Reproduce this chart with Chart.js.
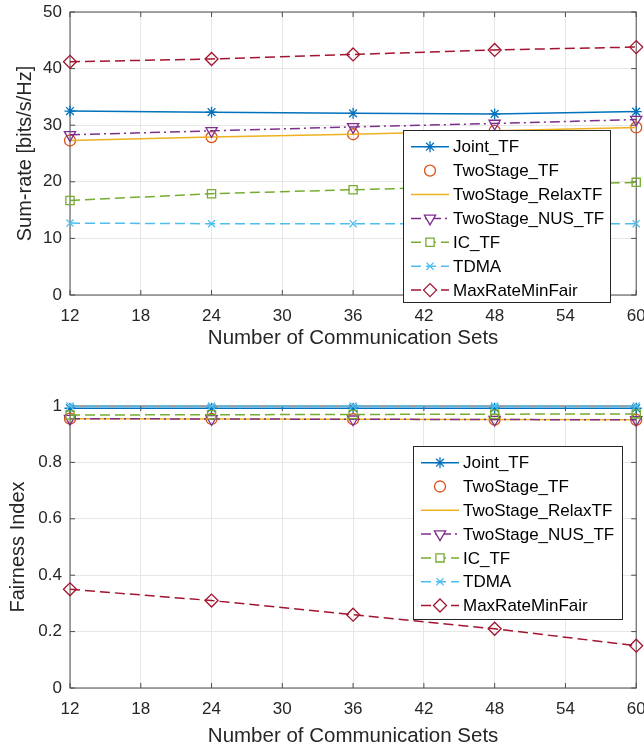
<!DOCTYPE html>
<html>
<head>
<meta charset="utf-8">
<script src="https://cdn.jsdelivr.net/npm/chart.js@4.4.0/dist/chart.umd.min.js"></script>
<style>
  body { margin: 0; background: #fff; }
  canvas { display: block; }
</style>
</head>
<body>
<canvas id="rateChart" width="644" height="375"></canvas>
<canvas id="fairChart" width="644" height="375"></canvas>
<script>
// x axis: number of communication sets
const sets = [12, 24, 36, 48, 60];
const names = ['Joint_TF', 'TwoStage_TF', 'TwoStage_RelaxTF', 'TwoStage_NUS_TF', 'IC_TF', 'TDMA', 'MaxRateMinFair'];

// sum-rate [bits/s/Hz]
const jointRate    = [32.5, 32.3, 32.1, 32.0, 32.4];
const twoStageRate = [27.3, 27.9, 28.4, 29.0, 29.6];
const relaxRate    = [27.3, 27.9, 28.4, 29.0, 29.6];
const nusRate      = [28.3, 29.0, 29.7, 30.3, 31.0];
const icRate       = [16.7, 17.9, 18.6, 19.2, 19.9];
const tdmaRate     = [12.7, 12.6, 12.6, 12.6, 12.6];
const maxMinRate   = [41.2, 41.7, 42.5, 43.3, 43.8];

// fairness index
const jointFair    = [0.992, 0.992, 0.992, 0.992, 0.992];
const twoStageFair = [0.955, 0.954, 0.953, 0.952, 0.951];
const relaxFair    = [0.955, 0.954, 0.953, 0.952, 0.951];
const nusFair      = [0.955, 0.954, 0.953, 0.952, 0.951];
const icFair       = [0.968, 0.969, 0.970, 0.971, 0.972];
const tdmaFair     = [1.0, 1.0, 1.0, 1.0, 1.0];
const maxMinFair   = [0.35, 0.31, 0.26, 0.21, 0.15];

const FONT = "'Liberation Sans', Arial, Helvetica, sans-serif";
const TXT = '#262626';

// MATLAB-like line styles, one per series
const styles = [
  { color: '#0072BD', dash: [],            marker: 'star',     r: 5.5, line: true },
  { color: '#D95319', dash: [],            marker: 'circle',   r: 5.5, line: false },
  { color: '#EDB120', dash: [],            marker: false,      r: 0,   line: true },
  { color: '#7E2F8E', dash: [10, 4, 2, 4], marker: 'triangle', r: 6.5, line: true, rot: 180 },
  { color: '#77AC30', dash: [10, 5],       marker: 'rect',     r: 5.8, line: true },
  { color: '#4DBEEE', dash: [10, 5],       marker: 'crossRot', r: 5,   line: true },
  { color: '#A2142F', dash: [10, 5],       marker: 'rectRot',  r: 6.5, line: true }
];

function makeDatasets(series) {
  return series.map((vals, i) => {
    const s = styles[i];
    return {
      label: names[i],
      data: sets.map((x, k) => ({ x: x, y: vals[k] })),
      borderColor: s.color,
      backgroundColor: 'rgba(0,0,0,0)',
      borderWidth: 1.5,
      borderDash: s.dash,
      showLine: s.line,
      pointStyle: s.marker,
      pointRadius: s.r,
      pointRotation: s.rot || 0,
      pointBorderWidth: 1.3,
      pointBorderColor: s.color,
      pointBackgroundColor: 'rgba(0,0,0,0)',
      tension: 0,
      clip: false,
      order: -i   // later series drawn on top, like MATLAB
    };
  });
}

// box around the axes, inward ticks, and a MATLAB style legend
const framePlugin = {
  id: 'frameLegend',
  beforeDatasetsDraw(chart) {
    const { ctx, chartArea: a, scales } = chart;
    ctx.save();
    ctx.strokeStyle = '#4d4d4d';
    ctx.lineWidth = 1;
    ctx.strokeRect(a.left, a.top, a.right - a.left, a.bottom - a.top);
    ctx.beginPath();
    scales.x.ticks.forEach(t => {
      const px = scales.x.getPixelForValue(t.value);
      ctx.moveTo(px, a.bottom); ctx.lineTo(px, a.bottom - 5);
      ctx.moveTo(px, a.top); ctx.lineTo(px, a.top + 5);
    });
    scales.y.ticks.forEach(t => {
      const py = scales.y.getPixelForValue(t.value);
      ctx.moveTo(a.left, py); ctx.lineTo(a.left + 5, py);
      ctx.moveTo(a.right, py); ctx.lineTo(a.right - 5, py);
    });
    ctx.stroke();
    ctx.restore();
  },
  afterDraw(chart, args, opts) {
    const ctx = chart.ctx;
    const { x, y, w, h, first, rowH } = opts;
    ctx.save();
    ctx.fillStyle = '#fff';
    ctx.fillRect(x, y, w, h);
    ctx.strokeStyle = '#262626';
    ctx.lineWidth = 1;
    ctx.strokeRect(x + 0.5, y + 0.5, w, h);
    chart.data.datasets.forEach((ds, i) => {
      const cy = y + first + i * rowH;
      if (ds.showLine !== false) {
        ctx.setLineDash(ds.borderDash);
        ctx.strokeStyle = ds.borderColor;
        ctx.lineWidth = ds.borderWidth;
        ctx.beginPath();
        ctx.moveTo(x + 8, cy); ctx.lineTo(x + 46, cy);
        ctx.stroke();
      }
      ctx.setLineDash([]);
      if (ds.pointStyle) {
        ctx.strokeStyle = ds.pointBorderColor;
        ctx.fillStyle = '#fff';
        ctx.lineWidth = ds.pointBorderWidth;
        Chart.helpers.drawPoint(ctx, {
          pointStyle: ds.pointStyle,
          rotation: ds.pointRotation,
          radius: ds.pointRadius,
          borderWidth: ds.pointBorderWidth
        }, x + 27, cy);
      }
      ctx.fillStyle = '#000';
      ctx.font = '17px ' + FONT;
      ctx.textBaseline = 'middle';
      ctx.textAlign = 'left';
      ctx.fillText(ds.label, x + 50, cy + 1);
    });
    ctx.restore();
  }
};

function makeChart(id, series, cfg) {
  return new Chart(document.getElementById(id), {
    type: 'scatter',
    data: { datasets: makeDatasets(series) },
    plugins: [framePlugin],
    options: {
      responsive: false,
      animation: false,
      events: [],
      layout: { padding: cfg.padding },
      plugins: {
        legend: { display: false },
        tooltip: { enabled: false },
        frameLegend: cfg.legend
      },
      scales: {
        x: {
          type: 'linear',
          min: 12, max: 60,
          afterFit: s => { s.height = cfg.xHeight; s.paddingLeft = 0; s.paddingRight = 0; },
          grid: { color: '#e6e6e6', drawTicks: false },
          border: { display: false },
          ticks: { stepSize: 6, padding: 11, color: TXT, font: { family: FONT, size: 17 } },
          title: { display: true, text: 'Number of Communication Sets', color: TXT, padding: 0,
                   font: { family: FONT, size: 20.5 } }
        },
        y: {
          min: cfg.yMin, max: cfg.yMax,
          afterFit: s => { s.width = cfg.yWidth; s.paddingTop = 0; s.paddingBottom = 0; },
          grid: { color: '#e6e6e6', drawTicks: false },
          border: { display: false },
          ticks: { stepSize: cfg.yStep, padding: 8, color: TXT, font: { family: FONT, size: 17 },
                   callback: v => String(+v.toFixed(2)) },
          title: { display: true, text: cfg.yTitle, color: TXT, padding: 0,
                   font: { family: FONT, size: 20 } }
        }
      }
    }
  });
}

makeChart('rateChart',
  [jointRate, twoStageRate, relaxRate, nusRate, icRate, tdmaRate, maxMinRate],
  {
    padding: { left: 13, right: 7, top: 12, bottom: 24 },
    xHeight: 56, yWidth: 57,
    yMin: 0, yMax: 50, yStep: 10,
    yTitle: 'Sum-rate [bits/s/Hz]',
    legend: { x: 403, y: 130, w: 207, h: 172, first: 16.7, rowH: 23.9 }
  });

makeChart('fairChart',
  [jointFair, twoStageFair, relaxFair, nusFair, icFair, tdmaFair, maxMinFair],
  {
    padding: { left: 6, right: 7, top: 31, bottom: 1 },
    xHeight: 61, yWidth: 64,
    yMin: 0, yMax: 1, yStep: 0.2,
    yTitle: 'Fairness Index',
    legend: { x: 413, y: 71, w: 209, h: 173, first: 16.7, rowH: 23.8 }
  });
</script>
</body>
</html>
